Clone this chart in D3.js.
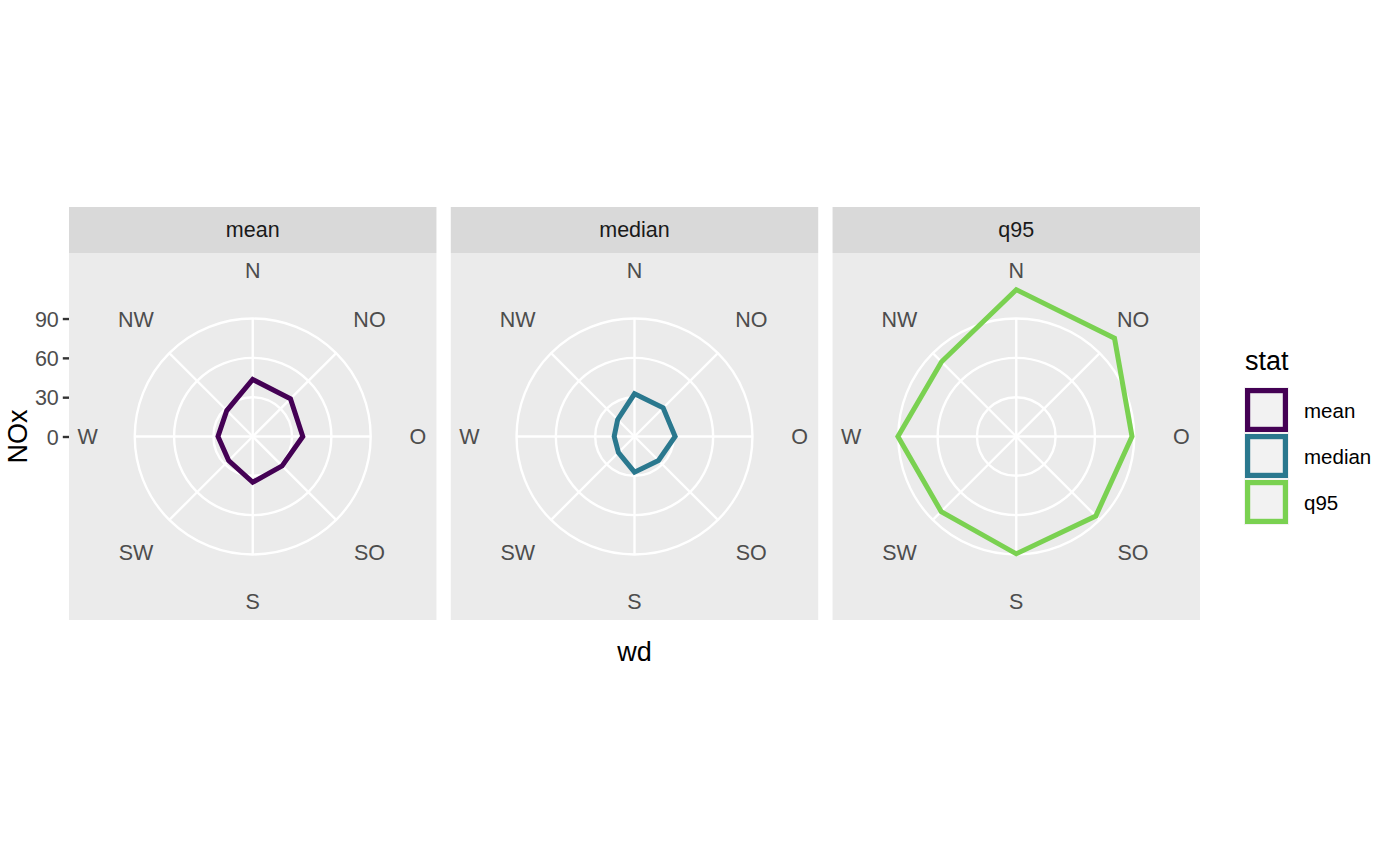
<!DOCTYPE html>
<html>
<head>
<meta charset="utf-8">
<script src="https://cdn.jsdelivr.net/npm/d3@7"></script>
<style>
  html, body { margin: 0; padding: 0; background: #ffffff; }
  svg { display: block; font-family: "Liberation Sans", Arial, sans-serif; }
</style>
</head>
<body>
<svg id="chart" width="1400" height="866"></svg>
<script>
// ---- data ----
const directions = ["N", "NO", "O", "SO", "S", "SW", "W", "NW"];
const stats = ["mean", "median", "q95"];
const meanValues   = [43.5, 40.7, 38.2, 31.7, 34.9, 26.0, 26.5, 28.0];
const medianValues = [32.6, 30.9, 31.0, 25.9, 27.2, 17.3, 15.5, 18.2];
const q95Values    = [112.0, 106.0, 88.3, 85.8, 89.5, 81.0, 90.3, 80.6];
const yTicks = [0, 30, 60, 90];
const statColors = ["#440154", "#2A788E", "#7AD151"];
const xTitle = "wd";
const yTitle = "NOx";
const legendTitle = "stat";

const seriesValues = [meanValues, medianValues, q95Values];

// ---- layout ----
const svg = d3.select("#chart");
const panelTop = 253, panelH = 367;
const stripTop = 207, stripH = 46;
const axisText = 21.5, titleText = 27, legendText = 20.5;

const xBand = d3.scaleBand().domain(stats).range([69, 1200]).paddingInner(0.0375);
const panelW = xBand.bandwidth();
const size = Math.min(panelW, panelH);

const allVals = seriesValues.flat();
const rScale = d3.scaleLinear().domain([0, d3.max(allVals)]).range([0, 0.4 * size]);
const color = d3.scaleOrdinal().domain(stats).range(statColors);
const angle = d3.scalePoint().domain(directions).range([0, 2 * Math.PI * (directions.length - 1) / directions.length]);

const gridTicks = yTicks.filter(t => t > 0);
const maxGrid = d3.max(gridTicks);

stats.forEach((s, si) => {
  const x0 = xBand(s);
  const cx = x0 + panelW / 2;
  const cy = panelTop + panelH / 2;

  // strip
  svg.append("rect").attr("x", x0).attr("y", stripTop).attr("width", panelW).attr("height", stripH)
    .attr("fill", "#D9D9D9");
  svg.append("text").attr("x", cx).attr("y", stripTop + stripH / 2)
    .attr("text-anchor", "middle").attr("dominant-baseline", "central")
    .attr("font-size", axisText).attr("fill", "#1A1A1A").text(s);

  // panel background
  svg.append("rect").attr("x", x0).attr("y", panelTop).attr("width", panelW).attr("height", panelH)
    .attr("fill", "#EBEBEB");

  const g = svg.append("g").attr("transform", `translate(${cx},${cy})`);

  // circles
  g.selectAll("circle.grid").data(gridTicks).join("circle")
    .attr("class", "grid").attr("r", d => rScale(d))
    .attr("fill", "none").attr("stroke", "#FFFFFF").attr("stroke-width", 2.4);

  // spokes
  g.selectAll("line.spoke").data(directions).join("line")
    .attr("class", "spoke")
    .attr("x1", 0).attr("y1", 0)
    .attr("x2", d => rScale(maxGrid) * Math.sin(angle(d)))
    .attr("y2", d => -rScale(maxGrid) * Math.cos(angle(d)))
    .attr("stroke", "#FFFFFF").attr("stroke-width", 2.4);

  // direction labels
  g.selectAll("text.dir").data(directions).join("text")
    .attr("class", "dir")
    .attr("x", d => 0.45 * size * Math.sin(angle(d)))
    .attr("y", d => -0.45 * size * Math.cos(angle(d)))
    .attr("text-anchor", "middle").attr("dominant-baseline", "central")
    .attr("font-size", axisText).attr("fill", "#4D4D4D").text(d => d);

  // polygon
  const vals = seriesValues[si];
  const radial = d3.lineRadial()
    .angle((d, i) => angle(directions[i]))
    .radius(d => rScale(d))
    .curve(d3.curveLinearClosed);
  g.append("path").attr("d", radial(vals))
    .attr("fill", "none").attr("stroke", color(s)).attr("stroke-width", 5)
    .attr("stroke-linejoin", "miter");

  // y axis on first panel
  if (si === 0) {
    const yScale = d3.scaleLinear().domain(rScale.domain()).range([cy, cy - 0.4 * size]);
    const axis = d3.axisLeft(yScale).tickValues(yTicks).tickSize(6.2).tickPadding(4).tickFormat(d3.format("d"));
    const ag = svg.append("g").attr("transform", `translate(${x0},0)`).call(axis);
    ag.select(".domain").remove();
    ag.selectAll(".tick line").attr("stroke", "#333333").attr("stroke-width", 2.4);
    ag.selectAll(".tick text").attr("font-size", axisText).attr("fill", "#4D4D4D")
      .attr("font-family", "Liberation Sans, Arial, sans-serif").attr("dy", "0.35em");
  }
});

// axis titles
svg.append("text").attr("x", (69 + 1200) / 2).attr("y", 652)
  .attr("text-anchor", "middle").attr("dominant-baseline", "central")
  .attr("font-size", titleText).attr("fill", "#000000").text(xTitle);
svg.append("text").attr("transform", `translate(18,${panelTop + panelH / 2}) rotate(-90)`)
  .attr("text-anchor", "middle").attr("dominant-baseline", "central")
  .attr("font-size", titleText).attr("fill", "#000000").text(yTitle);

// legend
const lx = 1244, ly = 387, keyS = 46;
svg.append("text").attr("x", lx + 1).attr("y", 361)
  .attr("dominant-baseline", "central").attr("font-size", titleText).attr("fill", "#000000").text(legendTitle);
const lg = svg.append("g");
stats.forEach((s, i) => {
  const y = ly + i * keyS;
  lg.append("rect").attr("x", lx).attr("y", y).attr("width", 45).attr("height", keyS).attr("fill", "#F2F2F2");
  const sw = 5.2;
  lg.append("rect").attr("x", lx + 1 + sw / 2).attr("y", y + 1 + sw / 2)
    .attr("width", 43 - sw).attr("height", 44 - sw)
    .attr("fill", "none").attr("stroke", color(s)).attr("stroke-width", sw);
  lg.append("text").attr("x", 1304).attr("y", y + keyS / 2)
    .attr("dominant-baseline", "central").attr("font-size", legendText).attr("fill", "#000000").text(s);
});
</script>
</body>
</html>
